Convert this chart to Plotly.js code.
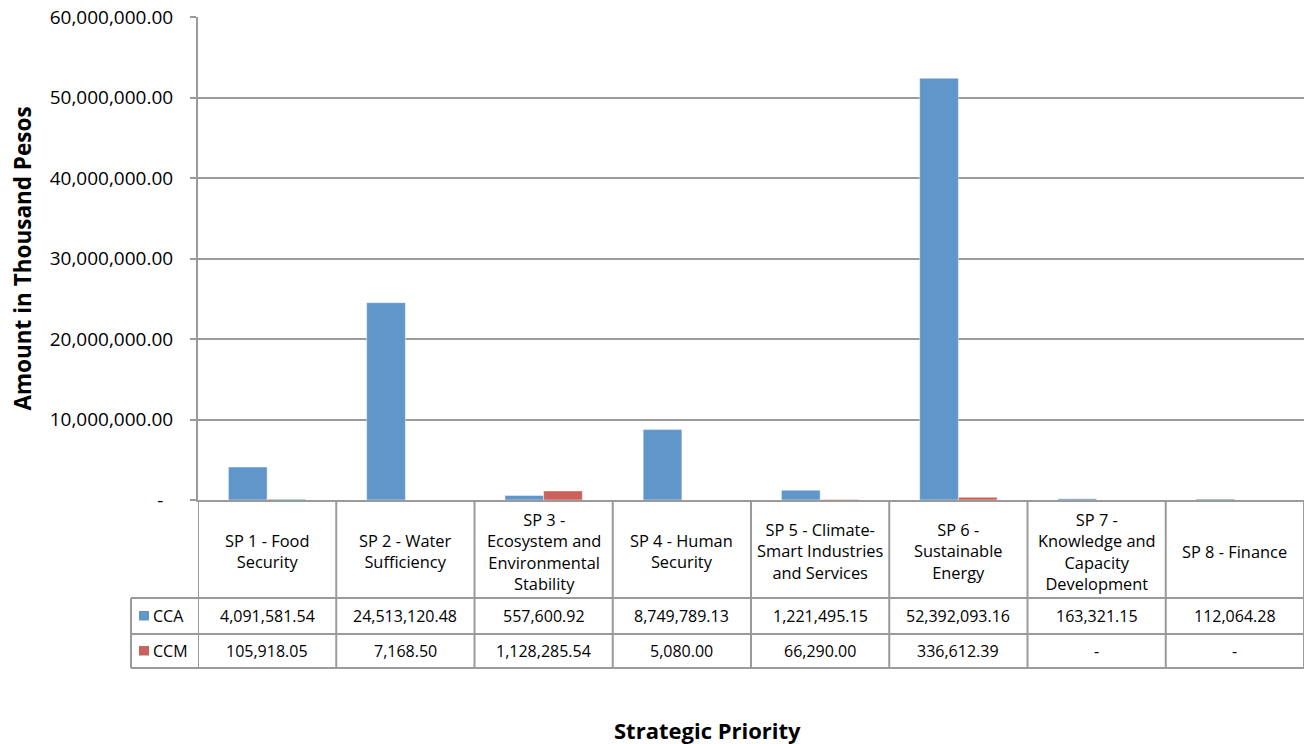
<!DOCTYPE html>
<html>
<head>
<meta charset="utf-8">
<script src="https://cdn.plot.ly/plotly-3.0.1.min.js"></script>
<style>
  html, body { margin: 0; padding: 0; background: #fff; }
  #chart { width: 1305px; height: 744px; }
</style>
</head>
<body>
<div id="chart"></div>
<script>
// Climate budget by strategic priority (amounts in thousand pesos)
const categories = [
  "SP 1 - Food Security",
  "SP 2 - Water Sufficiency",
  "SP 3 - Ecosystem and Environmental Stability",
  "SP 4 - Human Security",
  "SP 5 - Climate-Smart Industries and Services",
  "SP 6 - Sustainable Energy",
  "SP 7 - Knowledge and Capacity Development",
  "SP 8 - Finance"
];
const headerLabels = [
  "SP 1 - Food<br>Security",
  "SP 2 - Water<br>Sufficiency",
  "SP 3 -<br>Ecosystem and<br>Environmental<br>Stability",
  "SP 4 - Human<br>Security",
  "SP 5 - Climate-<br>Smart Industries<br>and Services",
  "SP 6 -<br>Sustainable<br>Energy",
  "SP 7 -<br>Knowledge and<br>Capacity<br>Development",
  "SP 8 - Finance"
];
const seriesNames = ["CCA", "CCM"];
const ccaValues = [4091581.54, 24513120.48, 557600.92, 8749789.13, 1221495.15, 52392093.16, 163321.15, 112064.28];
const ccmValues = [105918.05, 7168.50, 1128285.54, 5080.00, 66290.00, 336612.39, 0, 0];
const yTickValues = [0, 10000000, 20000000, 30000000, 40000000, 50000000, 60000000];

const colors = ["#6096C9", "#CB615B"];
const lineGray = "#9a9a9a";
const FONT = "'Open Sans', 'DejaVu Sans', sans-serif";

// plot area in pixels, used to place the data table below the axis
const W = 1305, H = 744;
const M = { l: 198, r: 1, t: 17, b: 244 };
const PW = W - M.l - M.r, PH = H - M.t - M.b;
const px = x => (x - M.l) / PW;
const py = y => (M.t + PH - y) / PH;

function fmt(v) {
  if (v === 0) return "-";
  return v.toLocaleString("en-US", { minimumFractionDigits: 2, maximumFractionDigits: 2 });
}

const traces = [ccaValues, ccmValues].map((vals, i) => ({
  type: "bar",
  name: seriesNames[i],
  x: categories,
  y: vals,
  marker: { color: colors[i], line: { color: "rgba(255,255,255,0.55)", width: 0.8 } },
  hoverinfo: "x+y+name"
}));

// table geometry (pixel rows)
const rowTop = M.t + PH;      // 500
const rowHeaderBottom = 598;
const rowCcaBottom = 634;
const rowCcmBottom = 668;
const tableLeft = 131;

const shapes = [];
[rowHeaderBottom, rowCcaBottom, rowCcmBottom].forEach(y => {
  shapes.push({ type: "line", xref: "paper", yref: "paper", x0: px(tableLeft), x1: 1, y0: py(y), y1: py(y),
    line: { color: lineGray, width: 2 } });
});
shapes.push({ type: "line", xref: "paper", yref: "paper", x0: px(tableLeft), x1: px(tableLeft),
  y0: py(rowHeaderBottom), y1: py(rowCcmBottom), line: { color: lineGray, width: 2 } });
for (let k = 0; k <= categories.length; k++) {
  shapes.push({ type: "line", xref: "x", yref: "paper", x0: k - 0.5, x1: k - 0.5,
    y0: py(rowTop), y1: py(rowCcmBottom), line: { color: lineGray, width: 2 } });
}
// legend keys in the row headers
[[rowHeaderBottom, rowCcaBottom], [rowCcaBottom, rowCcmBottom]].forEach((r, i) => {
  const cy = (r[0] + r[1]) / 2;
  shapes.push({ type: "rect", xref: "paper", yref: "paper",
    x0: px(139), x1: px(149), y0: py(cy - 5), y1: py(cy + 4.5),
    fillcolor: colors[i], line: { width: 0 } });
});

const annotations = [];
const cellFont = { family: FONT, size: 16, color: "#000" };
const headerFont = { family: FONT, size: 16.4, color: "#000" };
categories.forEach((c, i) => {
  annotations.push({ xref: "x", yref: "paper", x: c, y: py((rowTop + rowHeaderBottom) / 2 + 2),
    text: headerLabels[i], showarrow: false, font: headerFont, align: "center",
    xanchor: "center", yanchor: "middle" });
  annotations.push({ xref: "x", yref: "paper", x: c, y: py((rowHeaderBottom + rowCcaBottom) / 2),
    text: fmt(ccaValues[i]), showarrow: false, font: cellFont, xanchor: "center", yanchor: "middle" });
  annotations.push({ xref: "x", yref: "paper", x: c, y: py((rowCcaBottom + rowCcmBottom) / 2),
    text: fmt(ccmValues[i]), showarrow: false, font: cellFont, xanchor: "center", yanchor: "middle" });
});
seriesNames.forEach((n, i) => {
  const r = i === 0 ? [rowHeaderBottom, rowCcaBottom] : [rowCcaBottom, rowCcmBottom];
  annotations.push({ xref: "paper", yref: "paper", x: px(151), y: py((r[0] + r[1]) / 2),
    text: n, showarrow: false, font: cellFont, xanchor: "left", yanchor: "middle" });
});
annotations.push({ xref: "paper", yref: "paper", x: px(707), y: py(730),
  text: "Strategic Priority", showarrow: false,
  font: { family: FONT, size: 22, color: "#000", weight: 700 }, xanchor: "center", yanchor: "middle" });

const layout = {
  width: W, height: H,
  margin: M,
  paper_bgcolor: "#fff", plot_bgcolor: "#fff",
  font: { family: FONT, color: "#000" },
  showlegend: false,
  barmode: "group",
  bargap: 0.44,
  bargroupgap: 0,
  xaxis: {
    type: "category",
    range: [-0.5, categories.length - 0.5],
    showticklabels: false,
    ticks: "",
    showgrid: false,
    showline: true, linecolor: lineGray, linewidth: 2,
    zeroline: false
  },
  yaxis: {
    range: [0, 60000000],
    tickvals: yTickValues,
    ticktext: yTickValues.map(v => v === 0 ? "-\u00a0\u00a0" : fmt(v)),
    tickfont: { family: FONT, size: 19, color: "#000" },
    ticks: "outside", ticklen: 6, tickcolor: lineGray, tickwidth: 2,
    ticklabelstandoff: 13,
    showgrid: true, gridcolor: lineGray, gridwidth: 2,
    showline: true, linecolor: lineGray, linewidth: 2,
    zeroline: false,
    title: { text: "Amount in Thousand Pesos", standoff: 12,
      font: { family: FONT, size: 22.5, color: "#000", weight: 700 } }
  },
  shapes: shapes,
  annotations: annotations
};

Plotly.newPlot("chart", traces, layout, { displayModeBar: false, staticPlot: true });
</script>
</body>
</html>
